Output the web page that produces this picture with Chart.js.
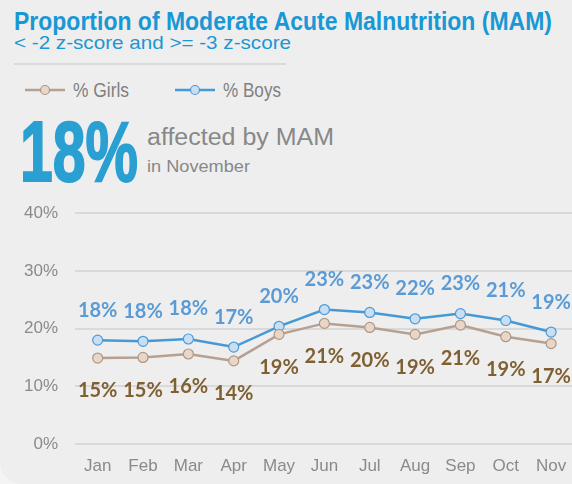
<!DOCTYPE html>
<html>
<head>
<meta charset="utf-8">
<script src="https://cdn.jsdelivr.net/npm/chart.js@4"></script>
<style>
  html, body { margin: 0; padding: 0; background: #f4f4f4; overflow: hidden; }
  #card {
    position: absolute; left: 0; top: 0; width: 600px; height: 484px;
    background: #eeeeee; border-bottom-left-radius: 22px; overflow: hidden;
  }
  .txt {
    position: absolute; white-space: nowrap; line-height: 1;
    font-family: "Liberation Sans", Arial, sans-serif; transform-origin: 0 0;
  }
  #title { left: 14px; top: 8px; font-size: 26px; font-weight: bold; color: #1a97d5; }
  #subtitle { left: 14px; top: 34px; font-size: 18.5px; color: #1a97d5; }
  #rule { position: absolute; left: 14px; top: 63px; width: 272px; height: 2px; background: #dadada; }
  .legtxt { top: 79px; font-size: 21px; color: #808080; }
  #big { left: 20px; top: 108px; font-size: 86px; font-weight: bold; color: #2a9fd2; -webkit-text-stroke: 2px #2a9fd2; }
  #aff { left: 147px; top: 126px; font-size: 23px; color: #888888; }
  #nov { left: 147px; top: 157.5px; font-size: 17px; color: #888888; }
  #chartBox { position: absolute; left: 0; top: 186px; width: 580px; height: 298px; }
  .leg { position: absolute; }
</style>
</head>
<body>
<div id="card">
  <div class="txt" id="title" data-w="538">Proportion of Moderate Acute Malnutrition (MAM)</div>
  <div class="txt" id="subtitle" data-w="277">&lt; -2 z-score and &gt;= -3 z-score</div>
  <div id="rule"></div>

  <canvas class="leg" id="legGirls" width="44" height="14" style="left:23px;top:83px"></canvas>
  <div class="txt legtxt" style="left:73px" data-w="56">% Girls</div>
  <canvas class="leg" id="legBoys" width="44" height="14" style="left:173px;top:83px"></canvas>
  <div class="txt legtxt" style="left:223px" data-w="58">% Boys</div>

  <div class="txt" id="big" data-w="118">18%</div>
  <div class="txt" id="aff" data-w="187">affected by MAM</div>
  <div class="txt" id="nov" data-w="103">in November</div>

  <div id="chartBox"><canvas id="mamChart" width="580" height="298"></canvas></div>
</div>

<script>
// Monthly proportion of MAM (%)
const months = ['Jan', 'Feb', 'Mar', 'Apr', 'May', 'Jun', 'Jul', 'Aug', 'Sep', 'Oct', 'Nov'];
const girls = [14.9, 15.0, 15.6, 14.4, 19.0, 20.9, 20.2, 19.0, 20.6, 18.6, 17.4];
const boys = [18.0, 17.8, 18.2, 16.8, 20.4, 23.3, 22.8, 21.7, 22.6, 21.4, 19.4];
const yTicks = [0, 10, 20, 30, 40];

const girlsColors = { line: '#b5a091', fill: '#e8d6c9', border: '#ad9887', label: '#7f6033' };
const boysColors = { line: '#4599d5', fill: '#c8def3', border: '#4f9ad6', label: '#5b9bd5' };

// squeeze header texts to the narrow widths of the original
document.querySelectorAll('.txt[data-w]').forEach(el => {
  const w = el.getBoundingClientRect().width;
  el.style.transform = 'scaleX(' + (parseFloat(el.dataset.w) / w) + ')';
});

// small legend samples: line with a circle marker
function drawLegend(id, c) {
  const ctx = document.getElementById(id).getContext('2d');
  ctx.strokeStyle = c.line;
  ctx.lineWidth = 2.5;
  ctx.beginPath();
  ctx.moveTo(2, 7);
  ctx.lineTo(42, 7);
  ctx.stroke();
  ctx.beginPath();
  ctx.arc(22, 7, 4.5, 0, Math.PI * 2);
  ctx.fillStyle = c.fill;
  ctx.fill();
  ctx.lineWidth = 1.2;
  ctx.strokeStyle = c.border;
  ctx.stroke();
}
drawLegend('legGirls', girlsColors);
drawLegend('legBoys', boysColors);

// value labels above (boys) and below (girls) the points
const valueLabels = {
  id: 'valueLabels',
  afterDatasetsDraw(chart) {
    const ctx = chart.ctx;
    ctx.save();
    ctx.font = 'bold 20px Lato, "Open Sans", sans-serif';
    ctx.textAlign = 'center';
    ctx.textBaseline = 'middle';
    chart.data.datasets.forEach((ds, i) => {
      const meta = chart.getDatasetMeta(i);
      ctx.fillStyle = ds.labelColor;
      meta.data.forEach((pt, j) => {
        ctx.fillText(Math.round(ds.data[j]) + '%', pt.x, pt.y + ds.labelShift);
      });
    });
    ctx.restore();
  }
};

new Chart(document.getElementById('mamChart'), {
  type: 'line',
  data: {
    labels: months,
    datasets: [
      {
        label: '% Girls',
        data: girls,
        borderColor: girlsColors.line,
        borderWidth: 2.5,
        pointRadius: 5,
        pointBorderWidth: 1.2,
        pointBackgroundColor: girlsColors.fill,
        pointBorderColor: girlsColors.border,
        labelColor: girlsColors.label,
        labelShift: 33,
        tension: 0
      },
      {
        label: '% Boys',
        data: boys,
        borderColor: boysColors.line,
        borderWidth: 2.5,
        pointRadius: 5,
        pointBorderWidth: 1.2,
        pointBackgroundColor: boysColors.fill,
        pointBorderColor: boysColors.border,
        labelColor: boysColors.label,
        labelShift: -30,
        tension: 0
      }
    ]
  },
  options: {
    responsive: false,
    animation: false,
    layout: { padding: { top: 8, right: 5, left: 0, bottom: 0 } },
    plugins: {
      legend: { display: false },
      tooltip: { enabled: false }
    },
    scales: {
      y: {
        min: yTicks[0],
        max: yTicks[yTicks.length - 1],
        afterFit(scale) { scale.width = 75; },
        afterBuildTicks(scale) { scale.ticks = yTicks.map(v => ({ value: v })); },
        border: { display: false },
        grid: { color: '#d9d9d9', lineWidth: 2, drawTicks: false },
        ticks: {
          padding: 17,
          color: '#8a8a8a',
          font: { family: '"Liberation Sans", Arial', size: 17 },
          callback: v => v + '%'
        }
      },
      x: {
        offset: true,
        afterFit(scale) { scale.height = 40; },
        border: { display: false },
        grid: { display: false, drawTicks: false },
        ticks: {
          padding: 12,
          color: '#8a8a8a',
          font: { family: '"Liberation Sans", Arial', size: 17 },
          maxRotation: 0
        }
      }
    }
  },
  plugins: [valueLabels]
});
</script>
</body>
</html>
